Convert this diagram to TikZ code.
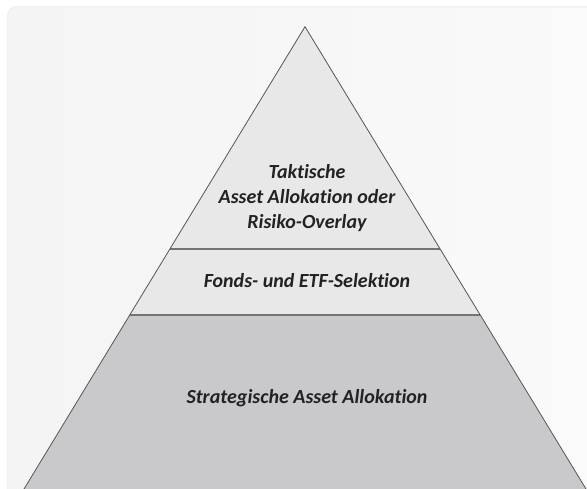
\documentclass[tikz,border=0pt]{standalone}
\usepackage{fontspec}
\setmainfont{Carlito}[Ligatures={NoCommon,NoRare}]
\usetikzlibrary{calc}
\definecolor{bglight}{HTML}{F4F4F4}
\definecolor{bgwhite}{HTML}{FAFAFA}
\definecolor{layerlight}{HTML}{E8E8E8}
\definecolor{layerdark}{HTML}{C9C9CB}
\definecolor{edgegray}{HTML}{555555}
\definecolor{divgray}{HTML}{747474}
\definecolor{textdark}{HTML}{222222}
\tikzstyle{layertext} = [font=\bfseries\itshape\fontsize{20}{25}\selectfont, text=textdark, align=center, inner sep=0pt]
\tikzstyle{divider} = [draw=divgray, line width=1.6pt]
\tikzstyle{edgeline} = [draw=edgegray, line width=0.8pt]

\begin{document}
\begin{tikzpicture}[x=1pt, y=1pt]
\useasboundingbox (0,0) rectangle (587,489);

% background panel
\fill[black!5, rounded corners=9pt] (7,-10) rectangle (600,483);
\shade[left color=bglight, right color=bgwhite, rounded corners=8pt] (9,-10) rectangle (600,481);

% pyramid corners
\coordinate (top) at (305,462.3);
\coordinate (bl) at (24,0);
\coordinate (br) at (586,0);
\coordinate (ul) at ($(top)!0.4809!(bl)$);
\coordinate (ur) at ($(top)!0.4809!(br)$);
\coordinate (ml) at ($(top)!0.6236!(bl)$);
\coordinate (mr) at ($(top)!0.6236!(br)$);

% layers
\fill[layerdark] (bl) -- (br) -- (mr) -- (ml) -- cycle;
\fill[layerlight] (ml) -- (mr) -- (ur) -- (ul) -- cycle;
\fill[layerlight] (ul) -- (ur) -- (top) -- cycle;
\draw[divider] (ml) -- (mr);
\draw[divider] (ul) -- (ur);
\draw[edgeline] (bl) -- (top) -- (br);

% labels
\node (taktik) [layertext] at (307,291) {Taktische\\Asset Allokation oder\\Risiko-Overlay};
\node (fonds) [layertext, anchor=base] at (307,201.3) {Fonds- und ETF-Selektion};
\node (strat) [layertext, anchor=base] at (307,85.7) {Strategische Asset Allokation};

\end{tikzpicture}
\end{document}
